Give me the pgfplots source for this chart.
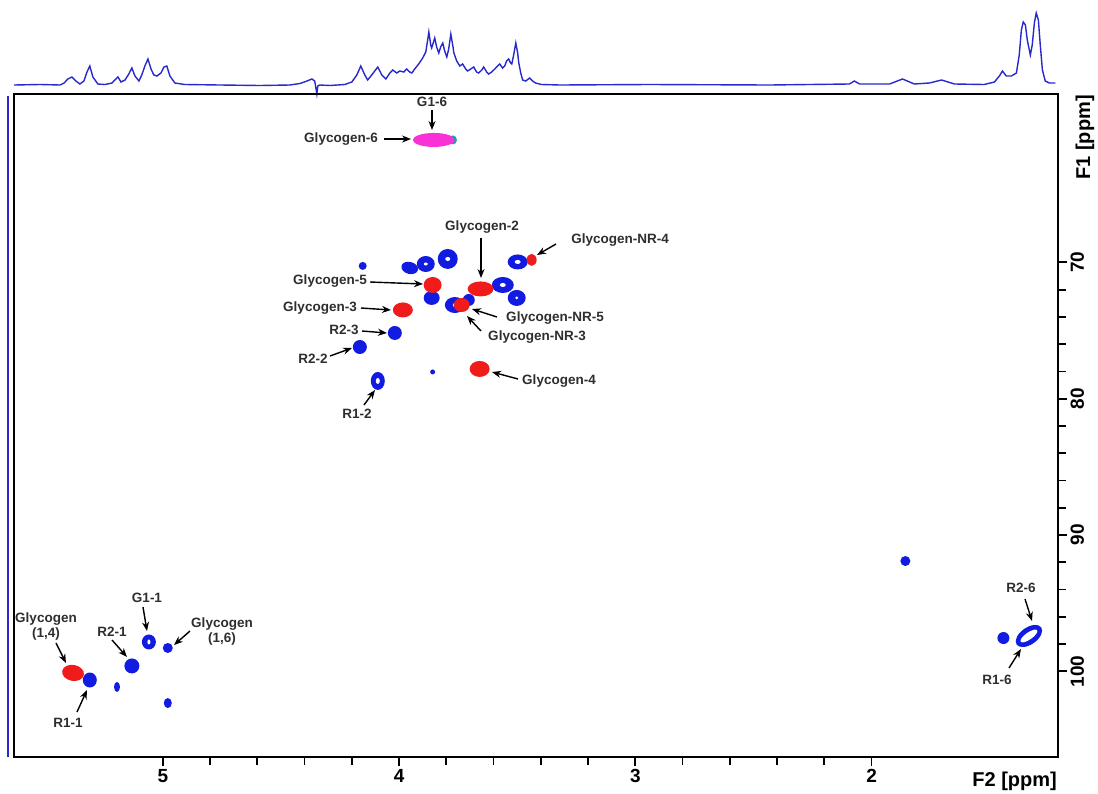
\documentclass[border=0pt]{standalone}
\usepackage{fontspec}
\setmainfont{Liberation Sans}
\usepackage{pgfplots}
\pgfplotsset{compat=1.18}
\usetikzlibrary{arrows.meta}
\definecolor{specblue}{RGB}{18,28,225}
\definecolor{specred}{RGB}{240,28,28}
\definecolor{specmag}{RGB}{248,50,215}
\definecolor{specteal}{RGB}{20,165,165}
\definecolor{linblue}{RGB}{40,40,205}

\pgfdeclareplotmark{blob}{%
  \pgfscope
  \pgftransformrotate{\rrot}%
  \pgfpathellipse{\pgfpointorigin}{\pgfqpoint{\rrx pt}{0pt}}{\pgfqpoint{0pt}{\rry pt}}%
  \pgfusepathqfill
  \ifdim\rirx pt>0pt
    \pgfsetfillcolor{white}%
    \pgfpathellipse{\pgfpointorigin}{\pgfqpoint{\rirx pt}{0pt}}{\pgfqpoint{0pt}{\riry pt}}%
    \pgfusepathqfill
  \fi
  \endpgfscope
}

\pgfplotsset{
  spot/.style={only marks, mark=blob, color=#1,
    visualization depends on={value \thisrow{rx}\as\rrx},
    visualization depends on={value \thisrow{ry}\as\rry},
    visualization depends on={value \thisrow{rot}\as\rrot},
    visualization depends on={value \thisrow{irx}\as\rirx},
    visualization depends on={value \thisrow{iry}\as\riry}},
}

\begin{document}
\begin{tikzpicture}
\useasboundingbox (0pt,0pt) rectangle (1098pt,-793pt);

% ---------------- 1D projection on top (F2) ----------------
\begin{axis}[at={(14pt,-94pt)}, anchor=south west, scale only axis,
  width=1044pt, height=89pt, x dir=reverse,
  xmin=1.211, xmax=5.630, ymin=-9, ymax=80, hide axis, clip=false]
\addplot[linblue, line width=1.4pt] table {
x h
5.630 0
5.520 0.5
5.435 0
5.418 2
5.402 6
5.385 8
5.368 4
5.351 1
5.334 4
5.321 13
5.309 19
5.296 8
5.275 1
5.245 0.5
5.215 2
5.203 5
5.190 8
5.177 3
5.160 5
5.144 11
5.131 17
5.118 9
5.101 4
5.089 10
5.076 19
5.063 26
5.050 16
5.038 10
5.025 9
5.008 12
4.995 18
4.983 19
4.970 9
4.949 2
4.907 0.5
4.759 0
4.589 -0.5
4.462 0
4.420 1.5
4.395 3.5
4.369 6
4.357 4
4.348 -9
4.344 -1
4.336 0
4.293 -0.5
4.230 0.5
4.200 3
4.179 10
4.162 19
4.145 10
4.133 5
4.116 10
4.090 18
4.073 10
4.056 6
4.039 12
4.027 15
4.010 12
3.997 14
3.980 13
3.968 16
3.955 13
3.946 12
3.934 16
3.917 21
3.900 27
3.887 33
3.879 45
3.874 53
3.866 40
3.862 37
3.853 44
3.849 47
3.841 38
3.832 32
3.824 38
3.815 42
3.807 34
3.798 28
3.790 36
3.781 51
3.773 40
3.768 32
3.756 24
3.743 19
3.731 21
3.718 16
3.710 14
3.697 16
3.684 18
3.672 13
3.663 12
3.650 15
3.642 18
3.629 13
3.621 11
3.608 13
3.595 16
3.583 19
3.574 21
3.562 17
3.553 19
3.545 24
3.536 26
3.528 22
3.523 21
3.515 30
3.506 42
3.498 32
3.494 23
3.485 12
3.477 5
3.464 4
3.447 7
3.435 4
3.422 2
3.397 0.5
3.320 0
2.940 0.5
2.432 0
2.094 1
2.073 4
2.051 1
1.924 1
1.869 6
1.819 1
1.755 2
1.704 5
1.649 1
1.523 0.5
1.480 3
1.459 9
1.446 14
1.430 9
1.408 9
1.387 12
1.375 30
1.366 55
1.358 63
1.349 60
1.341 45
1.328 30
1.320 40
1.311 62
1.303 72
1.294 65
1.286 40
1.277 15
1.265 4
1.248 2
1.222 2
};
\end{axis}

% ---------------- 1D projection on the left (F1) ----------------
\begin{axis}[at={(4pt,-757pt)}, anchor=south west, scale only axis,
  width=8pt, height=663pt, y dir=reverse,
  xmin=0, xmax=1, ymin=57.65, ymax=106.29, hide axis, clip=false]
\addplot[linblue, line width=1.5pt] coordinates {(0.5,57.8) (0.5,106.29)};
\end{axis}

% ---------------- 2D HSQC spectrum ----------------
\begin{axis}[at={(14pt,-757pt)}, anchor=south west, scale only axis,
  width=1044pt, height=663pt,
  x dir=reverse, y dir=reverse,
  xmin=1.211, xmax=5.630, ymin=57.65, ymax=106.29,
  axis line style={line width=1.3pt, black},
  xtick={2,3,4,5}, minor x tick num=4,
  ytick={70,80,90,100}, minor y tick num=4,
  xtick pos=left, ytick pos=right, yticklabel pos=right,
  tick align=outside,
  major tick length=9pt, minor tick length=8pt,
  every tick/.style={line width=1.8pt, black},
  /pgf/number format/assume math mode=true,
  tick label style={font=\fontsize{19}{19}\selectfont\bfseries},
  yticklabel style={rotate=90, anchor=north},
  xticklabel style={anchor=north},
]
% blue (CH / CH3 phase)
\addplot[spot=specblue] table {
x y rx ry rot irx iry
4.154 70.26 4 4 0 0 0
3.955 70.41 8.5 6 -15 0 0
3.887 70.12 9 8 0 2 1.5
3.794 69.75 10 10 0 2.5 2
3.498 69.97 10 7.5 0 3 2
3.862 72.61 8 7 0 0 0
3.561 71.66 11 8 0 3 2
3.502 72.61 9 8 0 1.5 1.5
3.764 73.13 10 8 0 2 2
3.705 72.76 6 6 0 0 0
4.018 75.18 7 7 0 0 0
4.166 76.21 7 7 0 0 0
3.858 78.04 2.5 2.5 0 0 0
4.090 78.70 7 9 0 2 3
5.309 100.64 7 7.5 0 0 0
5.194 101.15 3 5 0 0 0
5.131 99.61 7.5 7.5 0 0 0
5.059 97.85 7 7.5 0 1.5 2.5
4.979 98.29 5 5 0 0 0
4.979 102.33 4 5 0 0 0
1.857 91.91 5 5 0 0 0
1.442 97.56 6 6 0 0 0
1.334 97.41 15 8.5 35 10 3.5
};
% red (glycogen)
\addplot[spot=specred] table {
x y rx ry rot irx iry
3.439 69.82 5 6 0 0 0
3.858 71.66 9 8 0 0 0
3.655 71.95 13 7.5 0 0 0
3.735 73.13 8 7 0 0 0
3.984 73.49 10 7.5 0 0 0
3.659 77.82 10 8 0 0 0
5.380 100.12 11 8 -10 0 0
};
% CH2 (glycogen-6)
\addplot[spot=specteal] table {
x y rx ry rot irx iry
3.772 61.02 4 4.5 0 0 0
};
\addplot[spot=specmag] table {
x y rx ry rot irx iry
3.853 61.02 21 7 0 0 0
};
\end{axis}

% ---------------- axis titles ----------------
\node[rotate=90, anchor=east, font=\fontsize{20}{20}\selectfont\bfseries, inner sep=0pt] at (1085pt,-95pt) {F1 [ppm]};
\node[anchor=base east, font=\fontsize{20}{20}\selectfont\bfseries, inner sep=0pt] at (1057pt,-786pt) {F2 [ppm]};

% ---------------- annotations ----------------
\begin{scope}[x=1pt, y=-1pt,
  lab/.style={font=\fontsize{13.5}{15}\selectfont\bfseries, text=black!82, inner sep=0pt, align=center},
  arr/.style={-{Stealth[length=9pt,width=7pt]}, line width=1.4pt, black}]
\node[lab] at (432,102) {G1-6};
\draw[arr] (432,110) -- (432,130);
\node[lab] at (341,139) {Glycogen-6};
\draw[arr] (384,139) -- (411,139);
\node[lab] at (482,227) {Glycogen-2};
\draw[arr] (481,238) -- (481,278);
\node[lab] at (620,240) {Glycogen-NR-4};
\draw[arr] (556,244) -- (537,255);
\node[lab] at (330,281) {Glycogen-5};
\draw[arr] (370,282) -- (423,284);
\node[lab] at (320,308) {Glycogen-3};
\draw[arr] (361,308) -- (391,310);
\node[lab] at (344,330) {R2-3};
\draw[arr] (362,331) -- (387,333);
\node[lab] at (313,359) {R2-2};
\draw[arr] (330,356) -- (352,348);
\node[lab] at (555,318) {Glycogen-NR-5};
\draw[arr] (497,317) -- (472,309);
\node[lab] at (537,337) {Glycogen-NR-3};
\draw[arr] (481,331) -- (467,316);
\node[lab] at (559,381) {Glycogen-4};
\draw[arr] (518,379) -- (492,372);
\node[lab] at (357,414) {R1-2};
\draw[arr] (364,405) -- (375,390);
\node[lab] at (46,626) {Glycogen\\(1,4)};
\draw[arr] (56,643) -- (66,663);
\node[lab] at (68,723) {R1-1};
\draw[arr] (77,712) -- (87,690);
\node[lab] at (112,632) {R2-1};
\draw[arr] (112,640) -- (127,657);
\node[lab] at (147,598) {G1-1};
\draw[arr] (143,607) -- (147,631);
\node[lab] at (222,631) {Glycogen\\(1,6)};
\draw[arr] (190,631) -- (174,645);
\node[lab] at (1021,588) {R2-6};
\draw[arr] (1025,599) -- (1032,621);
\node[lab] at (997,680) {R1-6};
\draw[arr] (1009,668) -- (1021,649);
\end{scope}
\end{tikzpicture}
\end{document}
